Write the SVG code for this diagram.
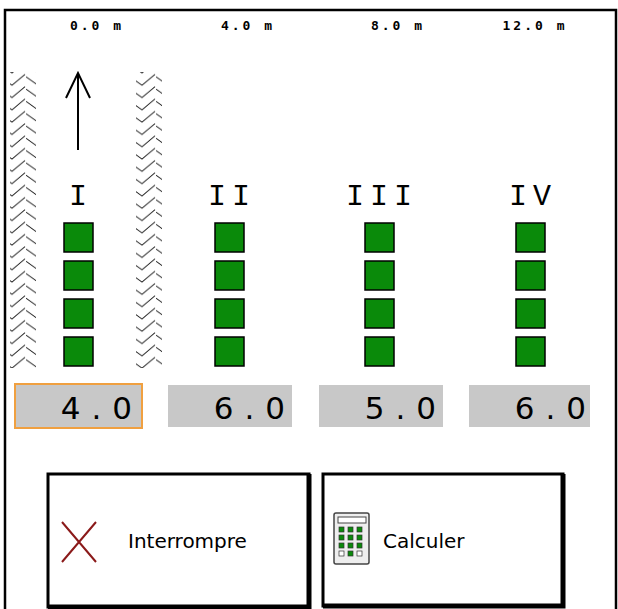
<svg xmlns="http://www.w3.org/2000/svg" width="618" height="609" viewBox="0 0 618 609">
<style>
.sq{fill:#0a8a0a;stroke:#000;stroke-width:1.5}
.top{font-family:"DejaVu Sans Mono",monospace;font-weight:bold;font-size:13px;letter-spacing:3px;fill:#000}
.rom{font-family:"Liberation Mono",monospace;font-size:30px;letter-spacing:6px;fill:#000}
.val{fill:#c8c8c8}
.vt{font-family:"DejaVu Sans",sans-serif;font-size:31px;letter-spacing:11px;fill:#000}
.btn{fill:#fff;stroke:#000;stroke-width:3}
.bt{font-family:"DejaVu Sans",sans-serif;font-size:20px;fill:#000}
</style>
<defs>
<pattern id="hatch" width="26" height="12.3" patternUnits="userSpaceOnUse">
<path d="M0,3 L12,11.5 L25,0.5" stroke="#222" stroke-width="1" fill="none"/>
</pattern>
</defs>
<rect x="0" y="0" width="618" height="609" fill="#fff"/>
<path d="M5,609 V10 H616 V609" fill="none" stroke="#000" stroke-width="2.5"/>
<g id="scale">
<text class="top" x="97" y="30" text-anchor="middle">0.0 m</text>
<text class="top" x="248" y="30" text-anchor="middle">4.0 m</text>
<text class="top" x="398" y="30" text-anchor="middle">8.0 m</text>
<text class="top" x="535" y="30" text-anchor="middle">12.0 m</text>
</g>
<g id="tracks">
<rect x="10" y="72" width="26" height="296" fill="url(#hatch)"/>
<rect x="136" y="72" width="26" height="296" fill="url(#hatch)"/>
<path d="M78,150 V73 M66,98 L78,73 L90,98" fill="none" stroke="#000" stroke-width="2"/>
</g>
<g id="sec1">
<text class="rom" x="81" y="205" text-anchor="middle">I</text>
<rect class="sq" x="64" y="223" width="29" height="29"/><rect class="sq" x="64" y="261" width="29" height="29"/><rect class="sq" x="64" y="299" width="29" height="29"/><rect class="sq" x="64" y="337" width="29" height="29"/>
<rect x="15" y="384" width="127" height="44" class="val" stroke="#f0a040" stroke-width="2"/>
<text class="vt" x="143" y="419" text-anchor="end">4.0</text>
</g>
<g id="sec2">
<text class="rom" x="232" y="205" text-anchor="middle">II</text>
<rect class="sq" x="215" y="223" width="29" height="29"/><rect class="sq" x="215" y="261" width="29" height="29"/><rect class="sq" x="215" y="299" width="29" height="29"/><rect class="sq" x="215" y="337" width="29" height="29"/>
<rect x="168" y="385" width="124" height="42" class="val"/>
<text class="vt" x="296" y="419" text-anchor="end">6.0</text>
</g>
<g id="sec3">
<text class="rom" x="382" y="205" text-anchor="middle">III</text>
<rect class="sq" x="365" y="223" width="29" height="29"/><rect class="sq" x="365" y="261" width="29" height="29"/><rect class="sq" x="365" y="299" width="29" height="29"/><rect class="sq" x="365" y="337" width="29" height="29"/>
<rect x="319" y="385" width="124" height="42" class="val"/>
<text class="vt" x="447" y="419" text-anchor="end">5.0</text>
</g>
<g id="sec4">
<text class="rom" x="533" y="205" text-anchor="middle">IV</text>
<rect class="sq" x="516" y="223" width="29" height="29"/><rect class="sq" x="516" y="261" width="29" height="29"/><rect class="sq" x="516" y="299" width="29" height="29"/><rect class="sq" x="516" y="337" width="29" height="29"/>
<rect x="469" y="385" width="121" height="42" class="val"/>
<text class="vt" x="597" y="419" text-anchor="end">6.0</text>
</g>
<g id="btn-cancel">
<rect class="btn" x="48" y="474" width="261" height="133"/>
<path d="M309,474 V607 H48" fill="none" stroke="#000" stroke-width="5"/>
<path d="M62,522 L96,562 M96,522 L62,562" stroke="#8b1a1a" stroke-width="2"/>
<text class="bt" x="128" y="548">Interrompre</text>
</g>
<g id="btn-calc">
<rect class="btn" x="323" y="474" width="240" height="132"/>
<path d="M563,474 V606 H323" fill="none" stroke="#000" stroke-width="5"/>
<rect x="334" y="513" width="35" height="51" rx="2" fill="#eee" stroke="#444" stroke-width="1.5"/>
<rect x="338" y="517" width="28" height="6" fill="#fff" stroke="#444"/>
<g fill="#0a8a0a" stroke="#333" stroke-width="0.7">
<rect x="339" y="527" width="5" height="5"/><rect x="348" y="527" width="5" height="5"/><rect x="357" y="527" width="5" height="5"/>
<rect x="339" y="535" width="5" height="5"/><rect x="348" y="535" width="5" height="5"/><rect x="357" y="535" width="5" height="5"/>
<rect x="339" y="543" width="5" height="5"/><rect x="348" y="543" width="5" height="5"/><rect x="357" y="543" width="5" height="5"/>
<rect x="339" y="551" width="5" height="5" fill="#fff"/><rect x="348" y="551" width="5" height="5"/><rect x="357" y="551" width="5" height="5" fill="#fff"/>
</g>
<text class="bt" x="383" y="548">Calculer</text>
</g>
</svg>
